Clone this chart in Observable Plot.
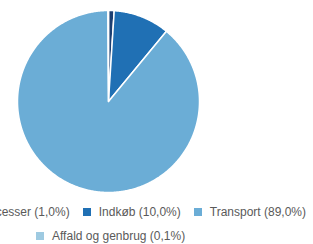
<!DOCTYPE html>
<html>
<head>
<meta charset="utf-8">
<script src="https://cdn.jsdelivr.net/npm/d3@7"></script>
<script src="https://cdn.jsdelivr.net/npm/@observablehq/plot@0.6"></script>
<style>
  html, body { margin: 0; padding: 0; background: #fff; overflow: hidden; }
  #wrap { position: relative; width: 313px; height: 244px; }
  #chart { position: absolute; left: 0; top: 0; }
  .legend { position: absolute; display: flex; white-space: nowrap; font: 12px "Liberation Sans", Arial, sans-serif; color: #5a5a5a; line-height: 14px; }
  .item { display: flex; align-items: center; }
  .sw { width: 8px; height: 8px; margin-right: 8px; }
</style>
</head>
<body>
<div id="wrap">
  <div id="chart"></div>
  <div class="legend" id="row1" style="left:-39px; top:205px; gap:13px;"></div>
  <div class="legend" id="row2" style="left:36px; top:229px;"></div>
</div>
<script>
const categories = ["Processer", "Indkøb", "Transport", "Affald og genbrug"];
const values = [1.0, 10.0, 89.0, 0.1];
const labels = ["Processer (1,0%)", "Indkøb (10,0%)", "Transport (89,0%)", "Affald og genbrug (0,1%)"];
const colors = ["#1c3f72", "#2070b4", "#6badd6", "#9ecae1"];

const data = categories.map((c, i) => ({category: c, value: values[i]}));
const arcs = d3.pie().sort(null).value(d => d.value)(data);

// slice outlines in unit coordinates (angle 0 = 12 o'clock, clockwise)
const pts = [];
for (const a of arcs) {
  const c = a.data.category;
  pts.push({category: c, x: 0, y: 0});
  const n = Math.max(2, Math.ceil((a.endAngle - a.startAngle) / 0.01));
  for (let k = 0; k <= n; k++) {
    const t = a.startAngle + (a.endAngle - a.startAngle) * k / n;
    pts.push({category: c, x: Math.sin(t), y: Math.cos(t)});
  }
  pts.push({category: c, x: 0, y: 0});
}

const W = 313, H = 200, cx = 108, cy = 101, R = 91;
const chart = Plot.plot({
  width: W, height: H,
  margin: 0,
  x: {domain: [-cx / R, (W - cx) / R], axis: null},
  y: {domain: [-(H - cy) / R, cy / R], axis: null},
  color: {domain: categories, range: colors},
  marks: [
    Plot.line(pts, {x: "x", y: "y", z: "category", fill: "category", stroke: "white", strokeWidth: 1.5, strokeLinejoin: "round", curve: "linear"})
  ]
});
document.getElementById("chart").appendChild(chart);

function item(i) {
  const el = document.createElement("div");
  el.className = "item";
  const sw = document.createElement("span");
  sw.className = "sw";
  sw.style.background = chart.scale("color").apply(categories[i]);
  const tx = document.createElement("span");
  tx.textContent = labels[i];
  el.appendChild(sw); el.appendChild(tx);
  return el;
}
const row1 = document.getElementById("row1");
[0, 1, 2].forEach(i => row1.appendChild(item(i)));
document.getElementById("row2").appendChild(item(3));
</script>
</body>
</html>
